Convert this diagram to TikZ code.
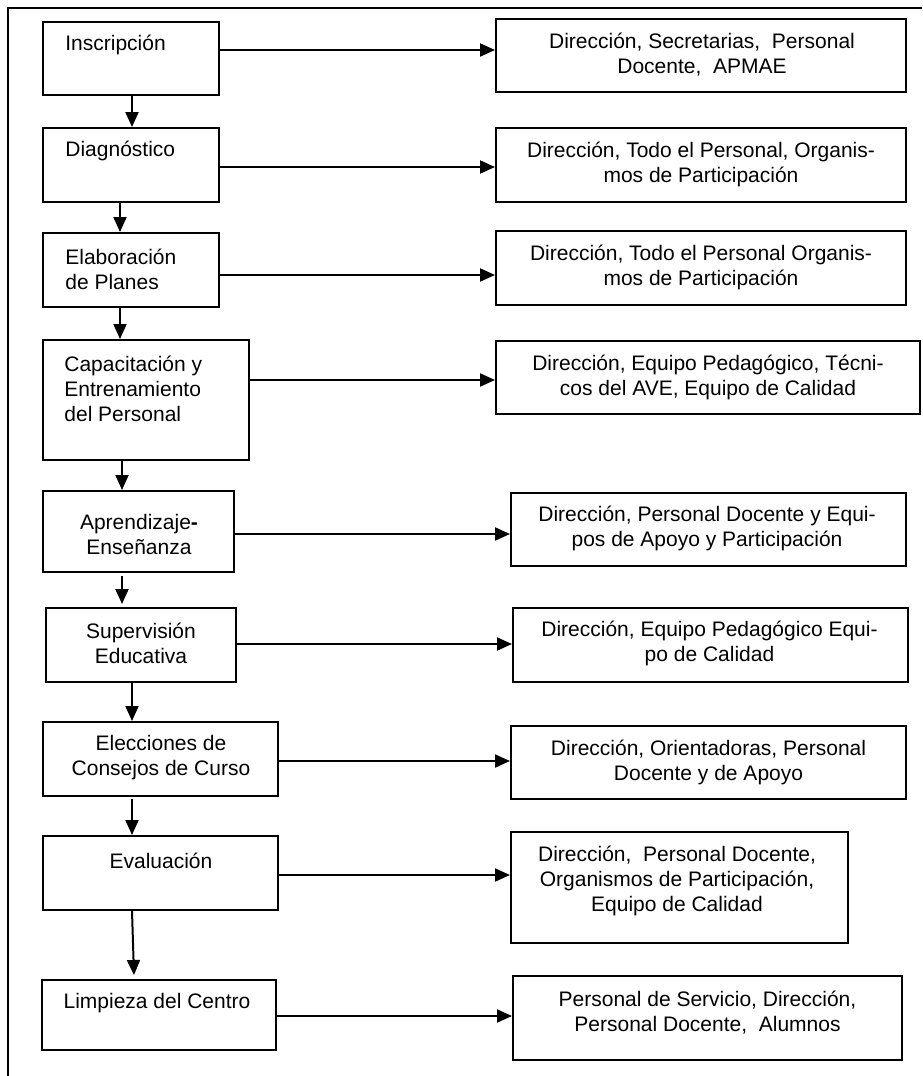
\documentclass[tikz,border=0pt]{standalone}
\usepackage{fontspec}
\setmainfont{Liberation Sans}
\usetikzlibrary{arrows.meta}
\begin{document}
\begin{tikzpicture}[x=0.5pt,y=-0.5pt,
  box/.style={draw,line width=1pt,inner sep=0pt},
  txt/.style={inner sep=0pt,font=\fontsize{10.5pt}{12.5pt}\selectfont},
  ltxt/.style={txt,anchor=west,align=left},
  ctxt/.style={txt,anchor=center,align=center},
  arr/.style={line width=1pt,-{Triangle[length=7.5pt,width=6.5pt]}},
  frame/.style={line width=1pt}]
\useasboundingbox (0,0) rectangle (922,1076);
\draw[frame] (8,1076) -- (8,8) -- (922,8);
% left boxes
\node[box,minimum width=88pt,minimum height=36.5pt] (l1) at (131,58.5) {};
\node[box,minimum width=88pt,minimum height=37pt] (l2) at (131,165) {};
\node[box,minimum width=88pt,minimum height=37pt] (l3) at (131,270) {};
\node[box,minimum width=103pt,minimum height=60pt] (l4) at (146,400) {};
\node[box,minimum width=95.5pt,minimum height=40.5pt] (l5) at (138.5,531.5) {};
\node[box,minimum width=95pt,minimum height=37pt] (l6) at (141,645) {};
\node[box,minimum width=117.5pt,minimum height=37pt] (l7) at (160.5,759) {};
\node[box,minimum width=117.5pt,minimum height=37pt] (l8) at (160.5,873) {};
\node[box,minimum width=117pt,minimum height=35pt] (l9) at (159,1015) {};
% left texts
\node[ltxt] (t1) at (65,45) {Inscripción};
\node[ltxt] (t2) at (65,151) {Diagnóstico};
\node[ltxt] (t3) at (65,269.5) {Elaboración\\de Planes};
\node[ltxt] (t4) at (64,388.5) {Capacitación y\\Entrenamiento\\del Personal};
\node[ctxt] (t5) at (139,534) {Aprendizaje\textbf{-}\\Enseñanza};
\node[ctxt] (t6) at (141,643) {Supervisión\\Educativa};
\node[ctxt] (t7) at (161,757.5) {Elecciones de\\Consejos de Curso};
\node[ctxt] (t8) at (161,861) {Evaluación};
\node[ctxt] (t9) at (157,1003.5) {Limpieza del Centro};
% right boxes
\node[box,minimum width=205pt,minimum height=36.5pt] (r1) at (701,55.5) {};
\node[box,minimum width=205pt,minimum height=37pt] (r2) at (701,165) {};
\node[box,minimum width=205pt,minimum height=37pt] (r3) at (701,268) {};
\node[box,minimum width=212pt,minimum height=36.5pt] (r4) at (708,377.5) {};
\node[box,minimum width=197.5pt,minimum height=36.5pt] (r5) at (708.5,529.5) {};
\node[box,minimum width=197.5pt,minimum height=37pt] (r6) at (710.5,645) {};
\node[box,minimum width=197.5pt,minimum height=36.5pt] (r7) at (708.5,762.5) {};
\node[box,minimum width=168.5pt,minimum height=55.5pt] (r8) at (679.5,887.5) {};
\node[box,minimum width=194.5pt,minimum height=42pt] (r9) at (707.5,1018) {};
% right texts
\node[ctxt] (s1) at (702,55) {Dirección, Secretarias, \ Personal\\Docente, \ APMAE};
\node[ctxt] (s2) at (701,164) {Dirección, Todo el Personal, Organis-\\mos de Participación};
\node[ctxt] (s3) at (701,267.5) {Dirección, Todo el Personal Organis-\\mos de Participación};
\node[ctxt] (s4) at (708,377) {Dirección, Equipo Pedagógico, Técni-\\cos del AVE, Equipo de Calidad};
\node[ctxt] (s5) at (707,528.5) {Dirección, Personal Docente y Equi-\\pos de Apoyo y Participación};
\node[ctxt] (s6) at (709.5,643.5) {Dirección, Equipo Pedagógico Equi-\\po de Calidad};
\node[ctxt] (s7) at (708.5,762) {Dirección, Orientadoras, Personal\\Docente y de Apoyo};
\node[ctxt] (s8) at (677,880.5) {Dirección, \ Personal Docente,\\Organismos de Participación,\\Equipo de Calidad};
\node[ctxt] (s9) at (707.5,1012.5) {Personal de Servicio, Dirección,\\Personal Docente, \ Alumnos};
% horizontal arrows
\draw[arr] (l1.east |- 0,50) -- (r1.west |- 0,50);
\draw[arr] (l2.east |- 0,167) -- (r2.west |- 0,167);
\draw[arr] (l3.east |- 0,275) -- (r3.west |- 0,275);
\draw[arr] (l4.east |- 0,380) -- (r4.west |- 0,380);
\draw[arr] (l5.east |- 0,534) -- (r5.west |- 0,534);
\draw[arr] (l6.east |- 0,644) -- (r6.west |- 0,644);
\draw[arr] (l7.east |- 0,761) -- (r7.west |- 0,761);
\draw[arr] (l8.east |- 0,875) -- (r8.west |- 0,875);
\draw[arr] (l9.east |- 0,1016) -- (r9.west |- 0,1016);
% vertical arrows
\draw[arr] (l1.south -| 132,0) -- (l2.north -| 132,0);
\draw[arr] (l2.south -| 120,0) -- (l3.north -| 120,0);
\draw[arr] (l3.south -| 120,0) -- (l4.north -| 120,0);
\draw[arr] (l4.south -| 122,0) -- (l5.north -| 122,0);
\draw[arr] ([yshift=-1.5pt]l5.south -| 122,0) -- ([yshift=1.5pt]l6.north -| 122,0);
\draw[arr] (l6.south -| 132,0) -- (l7.north -| 132,0);
\draw[arr] ([yshift=-1pt]l7.south -| 132,0) -- (l8.north -| 132,0);
\draw[arr] (l8.south -| 132,0) -- ([yshift=2pt]l9.north -| 134,0);
\end{tikzpicture}
\end{document}
